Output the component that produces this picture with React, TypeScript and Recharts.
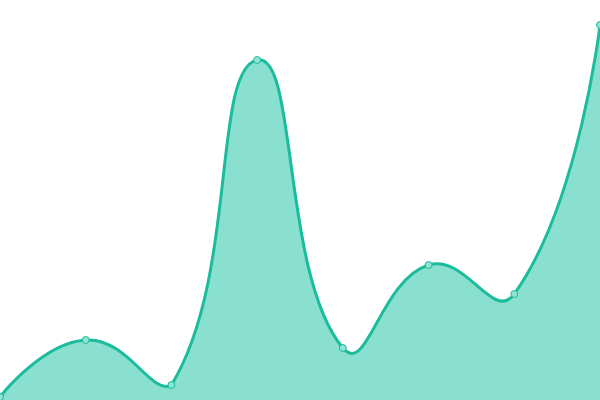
import React from 'react';
import { AreaChart, Area, XAxis, YAxis } from 'recharts';

const categories = ['A', 'B', 'C', 'D', 'E', 'F', 'G', 'H'];
const values = [3, 60, 15, 340, 52, 135, 106, 375];

const data = categories.map((c, i) => ({ name: c, value: values[i] }));

function drawSmooth(ctx: any, pts: [number, number][], useLineToFirst: boolean) {
  const n = pts.length;
  if (!n) return;
  let minX = Infinity, minY = Infinity, maxX = -Infinity, maxY = -Infinity;
  for (const [x, y] of pts) {
    minX = Math.min(minX, x); maxX = Math.max(maxX, x);
    minY = Math.min(minY, y); maxY = Math.max(maxY, y);
  }
  const smooth = 0.5;
  let cp0x = 0, cp0y = 0;
  for (let i = 0; i < n; i++) {
    const [x, y] = pts[i];
    if (i === 0) {
      if (useLineToFirst) ctx.lineTo(x, y); else ctx.moveTo(x, y);
      cp0x = x; cp0y = y;
      continue;
    }
    const prev = pts[i - 1];
    const next = pts[i + 1];
    let cp1x = x, cp1y = y, vx = 0, vy = 0, ratio = 0.5;
    if (next) {
      vx = next[0] - prev[0];
      vy = next[1] - prev[1];
      const lp = Math.hypot(x - prev[0], y - prev[1]);
      const ln = Math.hypot(next[0] - x, next[1] - y);
      ratio = lp + ln === 0 ? 0.5 : ln / (ln + lp);
      cp1x = x - vx * smooth * (1 - ratio);
      cp1y = y - vy * smooth * (1 - ratio);
    }
    cp0x = Math.max(minX, Math.min(maxX, cp0x));
    cp0y = Math.max(minY, Math.min(maxY, cp0y));
    cp1x = Math.max(minX, Math.min(maxX, cp1x));
    cp1y = Math.max(minY, Math.min(maxY, cp1y));
    ctx.bezierCurveTo(cp0x, cp0y, cp1x, cp1y, x, y);
    cp0x = x + vx * smooth * ratio;
    cp0y = y + vy * smooth * ratio;
  }
}

const smoothCurve: any = (context: any) => {
  let pts: [number, number][] = [];
  let line: number = NaN;
  return {
    areaStart() { line = 0; },
    areaEnd() { line = NaN; },
    lineStart() { pts = []; },
    lineEnd() {
      drawSmooth(context, pts, !!line);
      if (line || (line !== 0 && pts.length === 1)) context.closePath();
      line = 1 - line;
    },
    point(x: number, y: number) { pts.push([+x, +y]); },
  };
};

export default function App() {
  return (
    <div style={{ position: 'absolute', left: 0, top: 0, width: 600, height: 400, background: '#fff' }}>
      <AreaChart width={600} height={400} data={data} margin={{ top: 0, right: 0, bottom: 0, left: 0 }}>
        <XAxis dataKey="name" hide padding={{ left: 0, right: 0 }} />
        <YAxis hide domain={[0, 400]} />
        <Area
          dataKey="value"
          type={smoothCurve}
          stroke="#1abc9c"
          strokeWidth={3}
          fill="#89e0cf"
          fillOpacity={1}
          dot={{ r: 3.5, fill: '#8fe3d2', stroke: '#1abc9c', strokeWidth: 1, fillOpacity: 1 }}
          activeDot={false}
          isAnimationActive={false}
        />
      </AreaChart>
    </div>
  );
}
